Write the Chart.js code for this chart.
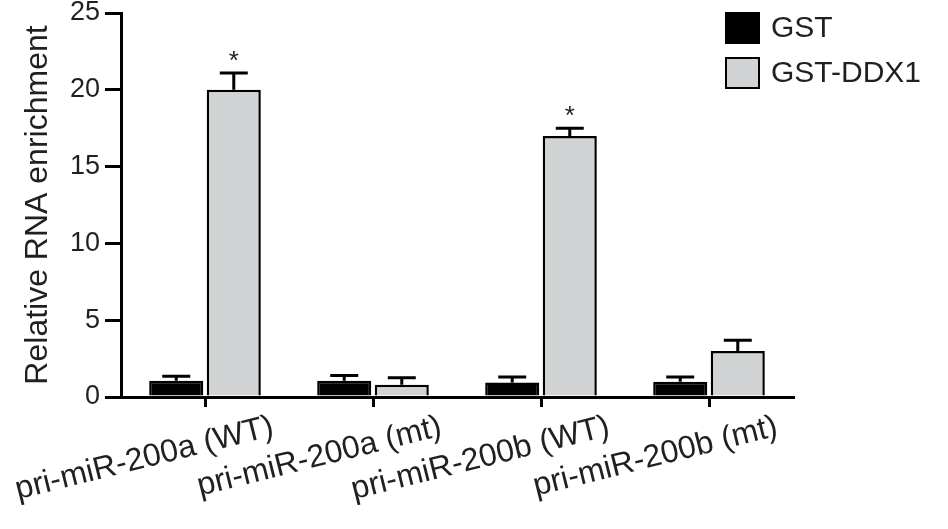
<!DOCTYPE html>
<html>
<head>
<meta charset="utf-8">
<script src="https://cdn.jsdelivr.net/npm/chart.js@4"></script>
<style>
  html, body { margin: 0; padding: 0; background: #fff; }
  #wrap { width: 948px; height: 529px; position: relative; }
</style>
</head>
<body>
<div id="wrap"><canvas id="chart"></canvas></div>
<script>
// --- DATA ---
const categories = ['pri-miR-200a (WT)', 'pri-miR-200a (mt)', 'pri-miR-200b (WT)', 'pri-miR-200b (mt)'];
const gstValues = [1.05, 1.05, 0.95, 1.0];
const gstErrors = [0.3, 0.35, 0.35, 0.3];
const ddx1Values = [20.0, 0.8, 17.0, 3.0];
const ddx1Errors = [1.1, 0.45, 0.5, 0.7];
const ddx1Marks = ['*', '', '*', ''];
const yMin = 0, yMax = 25, yStep = 5;

const FONT = "'Liberation Sans', Arial, sans-serif";
const INK = '#231f20';
const GREY = '#d1d3d4';

// error bars, significance marks and legend
const extrasPlugin = {
  id: 'extras',
  afterDatasetsDraw(chart) {
    const ctx = chart.ctx;
    const y = chart.scales.y;
    const errs = [gstErrors, ddx1Errors];
    ctx.save();
    ctx.strokeStyle = '#000';
    ctx.lineWidth = 3;
    chart.data.datasets.forEach((ds, di) => {
      const meta = chart.getDatasetMeta(di);
      meta.data.forEach((bar, i) => {
        const top = y.getPixelForValue(ds.data[i]);
        const cap = y.getPixelForValue(ds.data[i] + errs[di][i]);
        ctx.beginPath();
        ctx.moveTo(bar.x, top);
        ctx.lineTo(bar.x, cap);
        ctx.moveTo(bar.x - 14, cap);
        ctx.lineTo(bar.x + 14, cap);
        ctx.stroke();
        if (di === 1 && ddx1Marks[i]) {
          ctx.fillStyle = INK;
          ctx.font = '26px ' + FONT;
          ctx.textAlign = 'center';
          ctx.textBaseline = 'middle';
          ctx.fillText(ddx1Marks[i], bar.x, cap - 11);
        }
      });
    });

    // legend
    chart.data.datasets.forEach((ds, di) => {
      const ly = 12 + di * 45;
      ctx.fillStyle = ds.backgroundColor;
      ctx.fillRect(725, ly, 35, 32);
      ctx.lineWidth = 2;
      ctx.strokeStyle = '#000';
      ctx.strokeRect(726, ly + 1, 33, 30);
      ctx.fillStyle = INK;
      ctx.font = '30px ' + FONT;
      ctx.textAlign = 'left';
      ctx.textBaseline = 'middle';
      ctx.fillText(ds.label, 771, ly + 17);
    });
    ctx.restore();
  }
};

new Chart(document.getElementById('chart'), {
  type: 'bar',
  data: {
    labels: categories,
    datasets: [
      { label: 'GST', data: gstValues, backgroundColor: '#000', borderColor: '#000', borderWidth: 2.5 },
      { label: 'GST-DDX1', data: ddx1Values, backgroundColor: GREY, borderColor: '#000', borderWidth: 2.5 }
    ]
  },
  options: {
    responsive: true,
    maintainAspectRatio: false,
    animation: false,
    categoryPercentage: 0.685,
    barPercentage: 0.94,
    layout: { padding: { left: 0, top: 13, right: 155, bottom: 0 } },
    plugins: { legend: { display: false }, tooltip: { enabled: false } },
    scales: {
      x: {
        grid: { drawOnChartArea: false, offset: false, tickLength: 10, color: '#000', lineWidth: 3 },
        border: { color: '#000', width: 3 },
        ticks: {
          color: INK, font: { family: FONT, size: 32 }, autoSkip: false,
          minRotation: 14, maxRotation: 14, labelOffset: 68, padding: 1
        },
        afterFit(scale) { scale.height = 132; scale.paddingLeft = 0; scale.paddingRight = 0; }
      },
      y: {
        min: yMin, max: yMax,
        grid: { drawOnChartArea: false, tickLength: 16, color: '#000', lineWidth: 3 },
        border: { color: '#000', width: 3 },
        ticks: { stepSize: yStep, color: INK, font: { family: FONT, size: 27 }, padding: 5 },
        title: {
          display: true, text: 'Relative RNA enrichment', color: INK,
          font: { family: FONT, size: 32, weight: 'normal' }, padding: { top: 19, bottom: 0 }
        },
        afterFit(scale) { scale.width = 121; scale.paddingTop = 0; scale.paddingBottom = 0; }
      }
    }
  },
  plugins: [extrasPlugin]
});
</script>
</body>
</html>
